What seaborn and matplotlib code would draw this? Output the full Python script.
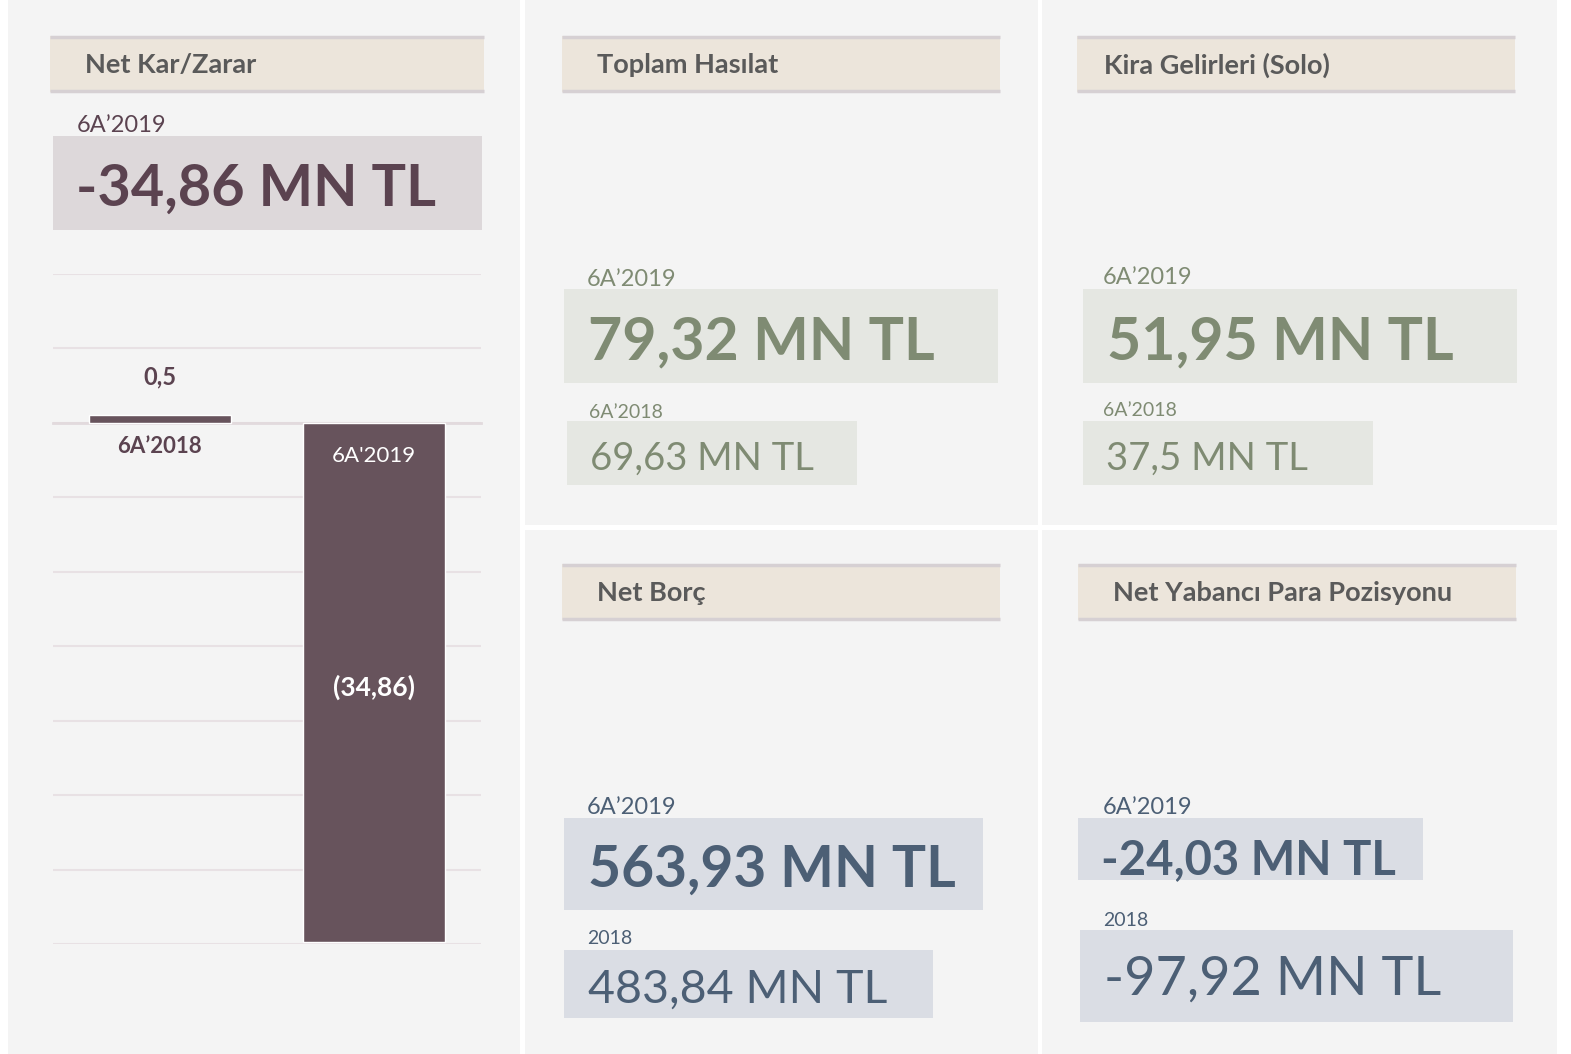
import matplotlib
matplotlib.use("Agg")
import matplotlib.pyplot as plt
from matplotlib.patches import Rectangle
import pandas as pd
import seaborn as sns

# bar chart data (Net Kar/Zarar)
bar_labels = ["6A’2018", "6A'2019"]
bar_values = [0.5, -34.86]
bar_texts = ["0,5", "(34,86)"]

# card texts
titles = ["Net Kar/Zarar", "Toplam Hasılat", "Kira Gelirleri (Solo)",
          "Net Borç", "Net Yabancı Para Pozisyonu"]
main_periods = ["6A’2019", "6A’2019", "6A’2019", "6A’2019", "6A’2019"]
main_values = ["-34,86 MN TL", "79,32 MN TL", "51,95 MN TL",
               "563,93 MN TL", "-24,03 MN TL"]
prev_periods = [None, "6A’2018", "6A’2018", "2018", "2018"]
prev_values = [None, "69,63 MN TL", "37,5 MN TL", "483,84 MN TL", "-97,92 MN TL"]

sns.set_style("white")
plt.rcParams['font.family'] = ['Lato', 'DejaVu Sans']

W, H = 1571, 1054
fig = plt.figure(figsize=(W / 100, H / 100), dpi=100, facecolor="white")

# background canvas in pixel coords
bg = fig.add_axes([0, 0, 1, 1])
bg.set_xlim(0, W)
bg.set_ylim(H, 0)
bg.axis("off")

def box(x, y, w, h, color):
    bg.add_patch(Rectangle((x, y), w, h, facecolor=color, edgecolor="none"))

# panels
for x, y, w, h in [(8, 0, 512, 1054), (525, 0, 513, 525), (1042, 0, 515, 525),
                   (525, 530, 513, 524), (1042, 530, 515, 524)]:
    box(x, y, w, h, "#f4f4f4")

themes = {
    "plum": ("#ddd8da", "#5b4350"),
    "green": ("#e5e7e2", "#7f8b73"),
    "blue": ("#dadde4", "#4c5f75"),
}

# layout: header, title x, main label, main box, main text, prev label, prev box, prev text
cards = [
    dict(theme="plum", head=(50, 36, 432), tx=85,
         lab=(77, 125), mbox=(53, 136, 429, 94), mtxt=(76, 189, 41.5, "bold")),
    dict(theme="green", head=(562, 36, 436), tx=597,
         lab=(587, 279), mbox=(564, 289, 434, 94), mtxt=(588, 342, 42.5, "bold"),
         plab=(589, 413), pbox=(567, 421, 290, 64), ptxt=(590, 459, 27.5, "normal")),
    dict(theme="green", head=(1077, 36, 436), tx=1104,
         lab=(1103, 277), mbox=(1083, 289, 434, 94), mtxt=(1107, 342, 42.5, "bold"),
         plab=(1103, 411), pbox=(1083, 421, 290, 64), ptxt=(1106, 459, 27.5, "normal")),
    dict(theme="blue", head=(562, 564, 436), tx=597,
         lab=(587, 807), mbox=(564, 818, 419, 92), mtxt=(588, 870, 41, "bold"),
         plab=(587, 938), pbox=(564, 950, 369, 68), ptxt=(588, 990, 33.5, "normal")),
    dict(theme="blue", head=(1078, 564, 436), tx=1113,
         lab=(1103, 807), mbox=(1078, 818, 345, 62), mtxt=(1101, 860, 34, "bold"),
         plab=(1103, 921), pbox=(1080, 930, 433, 92), ptxt=(1104, 979, 39, "normal")),
]

for i, c in enumerate(cards):
    fill, ink = themes[c["theme"]]
    hx, hy, hw = c["head"]
    box(hx, hy, hw + 2, 56, "#ece5db")
    bg.hlines([hy + 1, hy + 55], hx, hx + hw + 2, color="#d6d0d3", lw=2.5)
    bg.text(c["tx"], hy + 29, titles[i], fontsize=19.5, fontweight="bold",
            color="#5a5a5a", va="center", ha="left")

    bg.text(*c["lab"], main_periods[i], fontsize=17, color=ink, va="center")
    box(*c["mbox"], fill)
    x, y, fs, fw = c["mtxt"]
    bg.text(x, y, main_values[i], fontsize=fs, fontweight=fw, color=ink, va="center")

    if prev_values[i] is not None:
        bg.text(*c["plab"], prev_periods[i], fontsize=14, color=ink, va="center")
        box(*c["pbox"], fill)
        x, y, fs, fw = c["ptxt"]
        bg.text(x, y, prev_values[i], fontsize=fs, fontweight=fw, color=ink, va="center")

# separators
bg.vlines([522, 1040], 0, H, color="white", lw=3)
bg.hlines(527, 522, 1557, color="white", lw=3)

# bar chart
bar_col = "#67535c"
ax = fig.add_axes([53 / W, 1 - 944 / H, 428 / W, 670 / H])
ax.set_facecolor("none")
df = pd.DataFrame({"period": bar_labels, "value": bar_values})
sns.barplot(data=df, x="period", y="value", color=bar_col, width=0.665,
            saturation=1, ax=ax, zorder=3)
ax.set_ylim(-35, 10)
ax.set_yticks(range(-35, 11, 5))
ax.yaxis.grid(True, color="#e8e1e4", lw=1.5, zorder=0)
ax.tick_params(axis="y", length=0, labelleft=False)
ax.set_xlabel("")
ax.set_ylabel("")
for s in ["top", "left", "right"]:
    ax.spines[s].set_visible(False)
ax.spines["bottom"].set_position(("data", 0))
ax.spines["bottom"].set_color("#e2dadd")
ax.spines["bottom"].set_linewidth(2)
ax.spines["bottom"].set_zorder(1)
ax.set_xticks([-0.5, 0.5, 1.5])
ax.set_xticklabels([])
ax.tick_params(axis="x", length=7, width=1.5, color="#e2dadd", direction="out")
ax.set_xlim(-0.5, 1.5)

ax.text(0, bar_values[0] + 2.6, bar_texts[0], ha="center", va="center",
        fontsize=17, fontweight="bold", color="#5b4350", zorder=4)
ax.text(0, -1.6, bar_labels[0], ha="center", va="center",
        fontsize=16, fontweight="bold", color="#5b4350", zorder=4)
ax.text(1, -2.2, bar_labels[1], ha="center", va="center",
        fontsize=16, color="white", zorder=4)
ax.text(1, bar_values[1] / 2 - 0.3, bar_texts[1], ha="center", va="center",
        fontsize=19, fontweight="bold", color="white", zorder=4)

fig.savefig("out.png", dpi=100, facecolor="white")
